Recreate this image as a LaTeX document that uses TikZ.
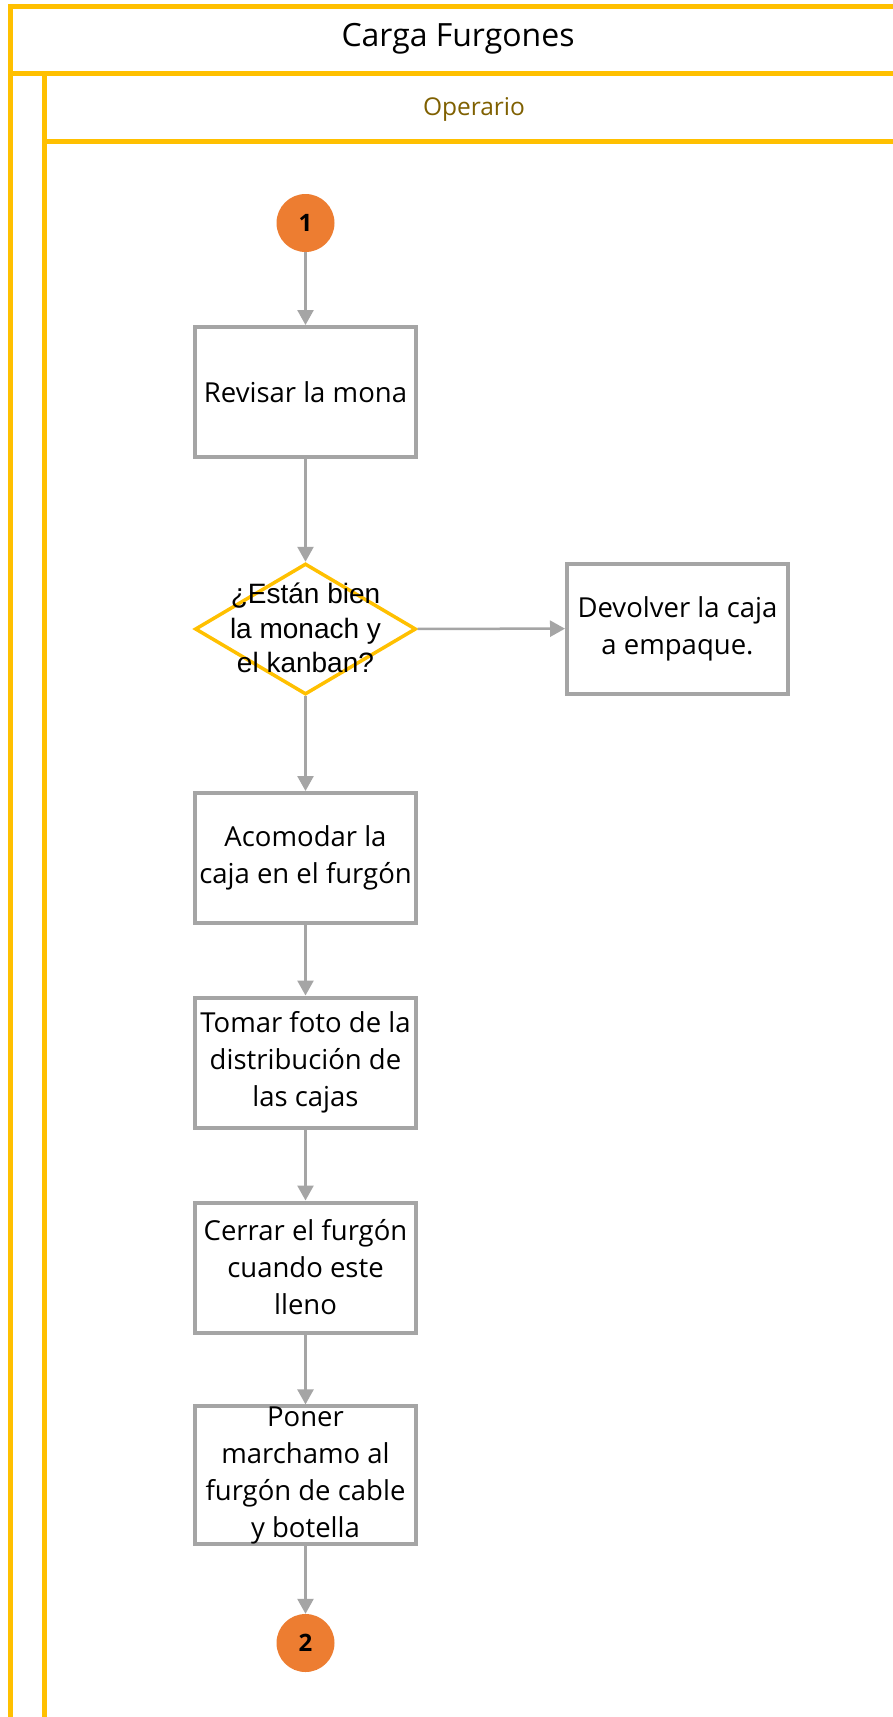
\documentclass[tikz,border=0pt]{standalone}
\usepackage{fontspec}
\setmainfont{Open Sans}
\newfontfamily\arialfont{Liberation Sans}
\usetikzlibrary{arrows.meta,shapes.geometric}
\definecolor{laneyellow}{HTML}{FFC000}
\definecolor{boxgray}{HTML}{A5A5A5}
\definecolor{connorange}{HTML}{ED7D31}
\definecolor{laneolive}{HTML}{7F6000}

\begin{document}
\begin{tikzpicture}[x=1pt,y=-1pt,
  lane/.style={draw=laneyellow,line width=5pt},
  stepbox/.style={rectangle,draw=boxgray,line width=4pt,fill=white,
    minimum width=221pt,minimum height=130pt,inner sep=0pt,align=center,
    font=\fontsize{27.5}{37}\selectfont},
  decision/.style={diamond,draw=laneyellow,line width=3.5pt,fill=white,
    minimum width=221pt,minimum height=131pt,inner sep=0pt},
  decisiontext/.style={align=center,inner sep=0pt,
    font=\arialfont\fontsize{28}{34.5}\selectfont},
  conn/.style={circle,fill=connorange,minimum size=58pt,inner sep=0pt,
    font=\bfseries\fontsize{24}{24}\selectfont},
  flow/.style={draw=boxgray,line width=2.5pt,-{Triangle[length=15pt,width=16pt]}}
]
\useasboundingbox (0,0) rectangle (893,1717);
\fill[white] (0,0) rectangle (893,1717);

% pool and lane frame
\draw[lane] (893,6) -- (10.5,6) -- (10.5,1717);
\draw[lane] (8,73.5) -- (893,73.5);
\draw[lane] (44.5,73.5) -- (44.5,1717);
\draw[lane] (44.5,141.5) -- (893,141.5);

\node[font=\fontsize{32}{36}\selectfont] (title) at (458,39) {Carga Furgones};
\node[font=\fontsize{24.5}{28}\selectfont,text=laneolive] (lanename) at (474,109) {Operario};

% flow
\node[conn] (c1) at (305.5,223) {1};
\node[stepbox] (b1) at (305.5,392) {Revisar la mona};
\node[decision] (d) at (305.5,629) {};
\node[decisiontext] (dtext) at (305.5,628) {¿Están bien\\la monach y\\el kanban?};
\node[stepbox] (dev) at (677.5,628.5) {Devolver la caja\\a empaque.};
\node[stepbox] (b2) at (305.5,858) {Acomodar la\\caja en el furgón};
\node[stepbox] (b3) at (305.5,1062.5) {Tomar foto de la\\distribución de\\las cajas};
\node[stepbox] (b4) at (305.5,1267.5) {Cerrar el furgón\\cuando este\\lleno};
\node[stepbox] (b5) at (305.5,1475) {Poner\\marchamo al\\furgón de cable\\y botella};
\node[conn] (c2) at (305.5,1643) {2};

\draw[flow] (c1) -- (b1);
\draw[flow] (b1) -- (d);
\draw[flow] (d) -- (dev);
\draw[flow] (d) -- (b2);
\draw[flow] (b2) -- (b3);
\draw[flow] (b3) -- (b4);
\draw[flow] (b4) -- (b5);
\draw[flow] (b5) -- (c2);
\end{tikzpicture}
\end{document}
